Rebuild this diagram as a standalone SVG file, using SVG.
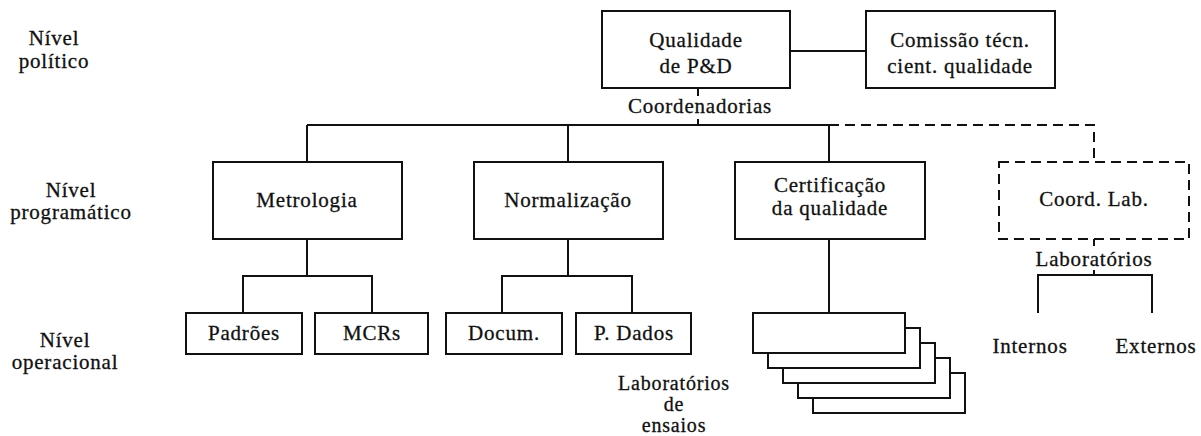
<svg xmlns="http://www.w3.org/2000/svg" width="1201" height="436" viewBox="0 0 1201 436">
<style>
.box{fill:#fff;stroke:#111;stroke-width:2}
.dbox{fill:#fff;stroke:#111;stroke-width:2;stroke-dasharray:10 6}
.ln{fill:none;stroke:#111;stroke-width:2}
.dl{fill:none;stroke:#111;stroke-width:2;stroke-dasharray:10 6}
text{font-family:"Liberation Serif","Times New Roman",serif;font-size:21px;fill:#111;stroke:#111;stroke-width:0.3;text-anchor:middle;letter-spacing:0.8px}
.sm{font-size:20px}
</style>
<rect width="1201" height="436" fill="#fff"/>
<g id="connectors">
<path class="ln" d="M790 51H866"/>
<path class="ln" d="M698 88V96M698 119V125"/>
<path class="ln" d="M307 125H829"/>
<path class="dl" d="M829 125H1094V162"/>
<path class="ln" d="M307 125V162M568 125V162M829 125V162"/>
<path class="ln" d="M307 239V276M243 313V276H372V313"/>
<path class="ln" d="M568 239V276M502 313V276H632V313"/>
<path class="ln" d="M829 239V313"/>
<path class="ln" d="M1094 239V246M1094 270V275M1038 313V275H1152V313"/>
</g>
<g id="levels">
<text x="54" y="45">Nível</text>
<text x="54" y="68">político</text>
<text x="71" y="197">Nível</text>
<text x="71" y="219">programático</text>
<text x="65" y="347">Nível</text>
<text x="65" y="369">operacional</text>
</g>
<g id="qualidade"><rect class="box" x="602" y="11" width="188" height="77"/><text x="696" y="47">Qualidade</text><text x="696" y="73">de P&amp;D</text></g>
<g id="comissao"><rect class="box" x="866" y="11" width="189" height="77"/><text x="960" y="47">Comissão técn.</text><text x="960" y="73">cient. qualidade</text></g>
<g id="coordenadorias"><text x="700" y="113">Coordenadorias</text></g>
<g id="metrologia"><rect class="box" x="213" y="162" width="189" height="77"/><text x="307" y="207">Metrologia</text></g>
<g id="normalizacao"><rect class="box" x="474" y="162" width="189" height="77"/><text x="568" y="207">Normalização</text></g>
<g id="certificacao"><rect class="box" x="735" y="162" width="190" height="77"/><text x="830" y="192">Certificação</text><text x="830" y="215">da qualidade</text></g>
<g id="coordlab"><rect class="dbox" x="999" y="162" width="190" height="77"/><text x="1094" y="206">Coord. Lab.</text></g>
<g id="padroes"><rect class="box" x="186" y="313" width="116" height="41"/><text x="244" y="340">Padrões</text></g>
<g id="mcrs"><rect class="box" x="315" y="313" width="113" height="41"/><text x="372" y="340">MCRs</text></g>
<g id="docum"><rect class="box" x="446" y="313" width="116" height="41"/><text x="504" y="340">Docum.</text></g>
<g id="pdados"><rect class="box" x="576" y="313" width="115" height="41"/><text x="634" y="340">P. Dados</text></g>
<g id="laboratorios-ensaios">
<rect class="box" x="813" y="373" width="152" height="40"/>
<rect class="box" x="798" y="358" width="152" height="40"/>
<rect class="box" x="783" y="343" width="152" height="40"/>
<rect class="box" x="768" y="328" width="152" height="40"/>
<rect class="box" x="753" y="313" width="152" height="40"/>
<text class="sm" x="674" y="390">Laboratórios</text>
<text class="sm" x="674" y="411">de</text>
<text class="sm" x="674" y="432">ensaios</text>
</g>
<g id="laboratorios"><text x="1094" y="266">Laboratórios</text></g>
<g id="internos"><text x="1030" y="353">Internos</text></g>
<g id="externos"><text x="1156" y="353">Externos</text></g>
</svg>
